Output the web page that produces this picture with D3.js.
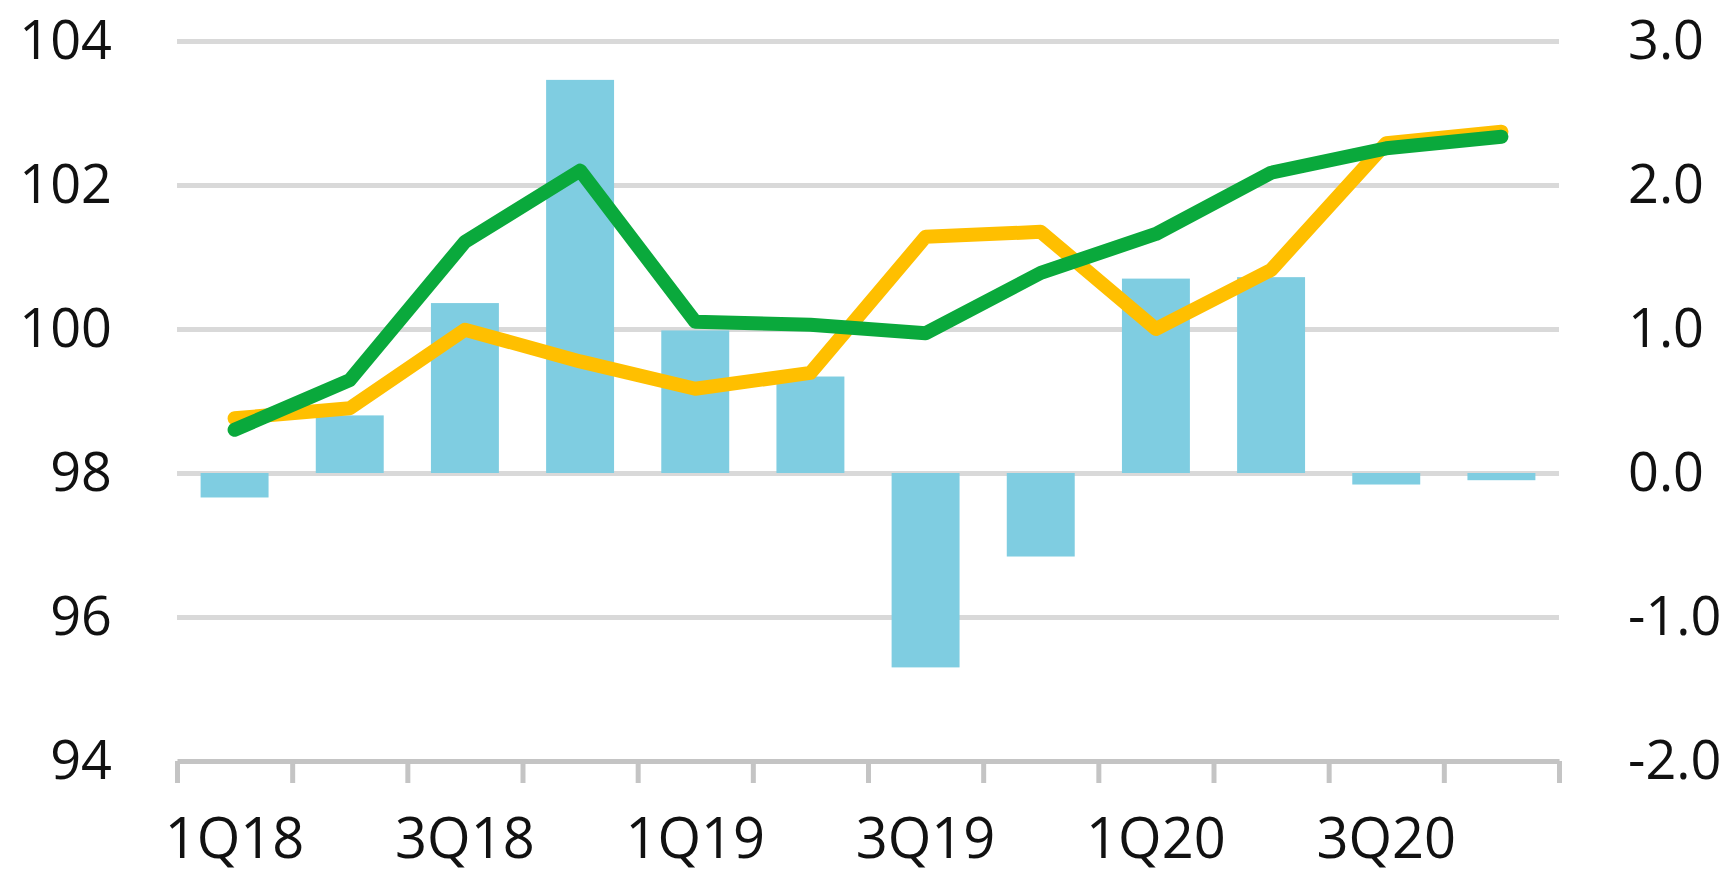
<!DOCTYPE html>
<html>
<head>
<meta charset="utf-8">
<script src="https://cdn.jsdelivr.net/npm/d3@7"></script>
<style>
  body { margin: 0; background: #fff; }
  svg text { font-family: "Open Sans", "Noto Sans", sans-serif; fill: #111; }
</style>
</head>
<body>
<div id="container"></div>
<script>
const WIDTH = 1736;
const HEIGHT = 873;
const LEFT = 177;
const RIGHT = 1559;
const TOP = 41;
const BOTTOM = 761;

const quarters = ["1Q18", "2Q18", "3Q18", "4Q18", "1Q19", "2Q19", "3Q19", "4Q19", "1Q20", "2Q20", "3Q20", "4Q20"];
const labelQuarters = ["1Q18", "3Q18", "1Q19", "3Q19", "1Q20", "3Q20"];
const barValues = [-0.17, 0.40, 1.18, 2.73, 0.99, 0.67, -1.35, -0.58, 1.35, 1.36, -0.08, -0.05];
const greenValues = [98.6, 99.29, 101.21, 102.2, 100.1, 100.06, 99.94, 100.78, 101.32, 102.17, 102.51, 102.67];
const yellowValues = [98.76, 98.9, 99.99, 99.55, 99.17, 99.39, 101.28, 101.35, 100.0, 100.82, 102.58, 102.74];
const leftTicks = [94, 96, 98, 100, 102, 104];
const rightTicks = [-2, -1, 0, 1, 2, 3];

const svg = d3.select("#container")
  .append("svg")
  .attr("width", WIDTH)
  .attr("height", HEIGHT);

const x = d3.scaleBand()
  .domain(quarters)
  .range([LEFT, RIGHT])
  .paddingInner(0.41)
  .paddingOuter(0.205);

const xEdge = d3.scaleLinear().domain([0, quarters.length]).range([LEFT, RIGHT]);
const yLeft = d3.scaleLinear().domain([94, 104]).range([BOTTOM, TOP]);
const yRight = d3.scaleLinear().domain([-2, 3]).range([BOTTOM, TOP]);
const center = (q) => x(q) + x.bandwidth() / 2;

// gridlines
svg.append("g")
  .attr("transform", `translate(${LEFT},0)`)
  .call(d3.axisLeft(yLeft).tickValues(leftTicks.slice(1)).tickSize(-(RIGHT - LEFT)).tickFormat(""))
  .call((g) => g.select(".domain").remove())
  .call((g) => g.selectAll("line").attr("stroke", "#d9d9d9").attr("stroke-width", 5));

// bars
svg.selectAll("rect.bar")
  .data(barValues)
  .enter()
  .append("rect")
  .attr("class", "bar")
  .attr("x", (d, i) => x(quarters[i]))
  .attr("width", x.bandwidth())
  .attr("y", (d) => yRight(Math.max(0, d)))
  .attr("height", (d) => Math.abs(yRight(d) - yRight(0)))
  .attr("fill", "#7fcde1");

// bottom axis with boundary ticks
svg.append("g")
  .attr("transform", `translate(0,${BOTTOM})`)
  .call(d3.axisBottom(xEdge).tickValues(d3.range(quarters.length + 1)).tickSize(22).tickSizeOuter(0).tickFormat(""))
  .call((g) => g.select(".domain").attr("stroke", "#c4c4c4").attr("stroke-width", 5))
  .call((g) => g.selectAll("line").attr("stroke", "#c4c4c4").attr("stroke-width", 5));

svg.append("g")
  .attr("transform", `translate(0,${BOTTOM})`)
  .call(d3.axisBottom(x).tickValues(labelQuarters).tickSize(0).tickPadding(57))
  .call((g) => g.select(".domain").remove())
  .call((g) => g.selectAll("text").style("font-size", "56px"));

// left axis labels
svg.append("g")
  .attr("transform", `translate(${LEFT},0)`)
  .call(d3.axisLeft(yLeft).tickValues(leftTicks).tickSize(0).tickPadding(65))
  .call((g) => g.select(".domain").remove())
  .call((g) => g.selectAll("text").style("font-size", "54px"));

// right axis labels
svg.append("g")
  .attr("transform", `translate(${RIGHT},0)`)
  .call(d3.axisRight(yRight).tickValues(rightTicks).tickSize(0).tickPadding(69).tickFormat((d) => d.toFixed(1)))
  .call((g) => g.select(".domain").remove())
  .call((g) => g.selectAll("text").style("font-size", "54px"));

const line = d3.line()
  .x((d, i) => center(quarters[i]))
  .y((d) => yLeft(d));

svg.append("path")
  .datum(yellowValues)
  .attr("d", line)
  .attr("fill", "none")
  .attr("stroke", "#ffbf00")
  .attr("stroke-width", 14)
  .attr("stroke-linejoin", "round")
  .attr("stroke-linecap", "round");

svg.append("path")
  .datum(greenValues)
  .attr("d", line)
  .attr("fill", "none")
  .attr("stroke", "#0aa93c")
  .attr("stroke-width", 14)
  .attr("stroke-linejoin", "round")
  .attr("stroke-linecap", "round");
</script>
</body>
</html>
